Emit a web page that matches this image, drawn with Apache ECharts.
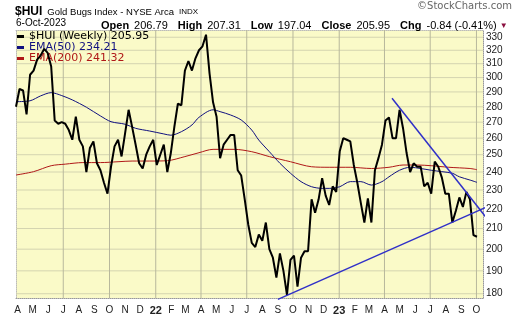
<!DOCTYPE html>
<html><head><meta charset="utf-8">
<script src="https://cdn.jsdelivr.net/npm/echarts@6/dist/echarts.min.js"></script>
<style>html,body{margin:0;padding:0;background:#fff}#c{width:520px;height:318px}</style>
</head><body><div id="c"></div>
<script>
// ---- data ----
const firstWeek = [2021, 2, 29]; // Monday of first weekly bar (Mar 29 2021)
const price = [
 280,292,291,275,302,305,313,316,321,318,
 308,271,269,270,269,265,259,273.5,259,255,
 240,254,258,245,241,234,228,243,255,259,
 249,263,278,267,256,245,242,250,255,259,
 244,250,256,240,251,267,282,281,305,312,
 305,314,320,323,332,303,283,273.5,248,256,
 259,262,262,241,238,225,212,203,201,207,
 204,213,200,196,187,198,190,179.5,195,197,
 183,196,199,199,225,218,225,236.5,227,222,
 232,229,252,260,259,258,244,234,223,213,
 225.5,213,241,248,256,271,273,260,260,278,
 266,251,240,245,243,243,232,234,228,246,
 243,237,228,228,213,219,226,221,229,225,
 206.79,205.95
];
const ema50Weeks = [0,4,7,10,13,16,20,24,27,31,34,38,42,44,47,50,52,56,58,61,64,67,69,72,75,78,81,84,87,89,92,95,98,101,104,106,109,112,115,118,121,124,126,129,131];
const ema50 = [283.4,284,287.3,289.5,287.5,284.6,279.7,274,270.3,268.7,266.1,264.4,262.6,261.8,264,268.2,273.1,278,276.8,274.6,271.4,265,258.8,251.8,245,239.3,234.6,231.8,230.9,230.9,231.8,234.6,234.6,232.7,234.6,237.3,241,242.7,242,241,240.2,239.3,237.3,235.5,234.21];
const ema200Weeks = [0,5,10,14,19,24,29,33,38,43,48,52,56,62,67,72,78,84,89,95,101,106,110,114,118,123,129,131];
const ema200 = [238.3,240.2,243.6,244.5,245.4,245.4,245.9,246.3,246.3,246.5,248.9,251.2,253.2,253.2,251.8,248.9,245.9,243,242.7,242.7,242,242.7,244,244,243.6,242.7,242,241.32];
const yTicks = [180,190,200,210,220,230,240,250,260,270,280,290,300,310,320,330];
const monthLetters = ['J','F','M','A','M','J','J','A','S','O','N','D'];
const headerDate = '6-Oct-2023';
const ohlcNames = ['Open','High','Low','Close'];
const ohlcValues = [206.79,207.31,197.04,205.95];
const change = [-0.84,-0.41];
const trendDown = [[2023,3,16,285.7],[2023,9,22,215]];
const trendUp = [[2022,8,1,177.6],[2023,9,22,221]];

// ---- build ----
function dayTime(y,m,d){ return new Date(y,m,d).getTime(); }
function weekTime(i){ return dayTime(firstWeek[0], firstWeek[1], firstWeek[2] + 7*i); }
const xMin = dayTime(2021,2,29);
const xMax = dayTime(2023,9,14);
const yMin = 178.2, yMax = 335.7;
const priceData = price.map((v,i)=>[weekTime(i), v]);
const ema50Data = ema50Weeks.map((w,k)=>[weekTime(w), ema50[k]]);
const ema200Data = ema200Weeks.map((w,k)=>[weekTime(w), ema200[k]]);
const monthTicks = [];
for (let y=2021, m=3; y<2023 || (y===2023 && m<=9);) { monthTicks.push(dayTime(y,m,1)); m++; if(m>11){m=0;y++;} }
const quarterTicks = monthTicks.filter(t => new Date(t).getMonth()%3===0 && t > xMin + 5*86400000);
const tl = p => [dayTime(p[0],p[1],p[2]), p[3]];

const nPrice = '$HUI (Weekly) ' + price[price.length-1].toFixed(2);
const nE50 = 'EMA(50) ' + ema50[ema50.length-1].toFixed(2);
const nE200 = 'EMA(200) ' + ema200[ema200.length-1].toFixed(2);

let hdr = '';
ohlcNames.forEach((n,k)=>{ hdr += '{l|' + n + '} {v|' + ohlcValues[k].toFixed(2) + '}  '; });
hdr += '{l|Chg} {v|' + change[0].toFixed(2) + ' (' + change[1].toFixed(2) + '%)}{t|▼}';

const gridSeries = [];
yTicks.forEach(v => gridSeries.push({type:'line', silent:true, showSymbol:false, z:1, animation:false,
  data:[[xMin,v],[xMax,v]], lineStyle:{color:'#d4d4b0', width:1}, emphasis:{disabled:true}}));
quarterTicks.forEach(t => gridSeries.push({type:'line', silent:true, showSymbol:false, z:1, animation:false,
  data:[[t,yMin],[t,yMax]], lineStyle:{color:'#b8b89c', width:1}, emphasis:{disabled:true}}));

const FF = 'Liberation Sans';
const chart = echarts.init(document.getElementById('c'));
chart.setOption({
  animation: false,
  title: [
    {left: 15, top: 3, padding: 0, text: '{a|$HUI} {b|Gold Bugs Index - NYSE Arca} {c|INDX}',
     textStyle: {rich: {
       a: {fontFamily: FF, fontSize: 12, fontWeight: 'bold', color: '#000'},
       b: {fontFamily: FF, fontSize: 9.5, fontWeight: 'normal', color: '#000'},
       c: {fontFamily: FF, fontSize: 8, fontWeight: 'normal', color: '#000'}}}},
    {left: 16, top: 18, padding: 0, text: headerDate,
     textStyle: {fontFamily: FF, fontSize: 10, fontWeight: 'normal', color: '#000'}},
    {left: 101, top: 17, padding: 0, text: hdr,
     textStyle: {rich: {
       l: {fontFamily: FF, fontSize: 11, fontWeight: 'bold', color: '#000'},
       v: {fontFamily: FF, fontSize: 11, fontWeight: 'normal', color: '#000'},
       t: {fontFamily: FF, fontSize: 8, fontWeight: 'normal', color: '#8b1040', padding: [0,0,0,3]}}}},
    {right: 8, top: 1, padding: 0, text: '©StockCharts.com',
     textStyle: {fontFamily: 'DejaVu Sans', fontSize: 10, fontWeight: 'normal', color: '#666'}}
  ],
  legend: {
    orient: 'vertical', left: 17, top: 31, padding: 0, itemGap: 0,
    itemWidth: 7, itemHeight: 3, icon: 'rect',
    textStyle: {fontFamily: 'DejaVu Sans', fontSize: 11, lineHeight: 11},
    data: [
      {name: nPrice, textStyle: {color: '#000'}},
      {name: nE50, textStyle: {color: '#101080'}},
      {name: nE200, textStyle: {color: '#b01818'}}
    ]
  },
  grid: {left: 16, right: 37, top: 30, bottom: 20, show: true, backgroundColor: '#fafac8', borderWidth: 0},
  xAxis: [{
    type: 'value', min: xMin, max: xMax, position: 'bottom', scale: true,
    axisLine: {show: true, onZero: false, lineStyle: {color: '#999', type: 'dotted'}},
    axisTick: {show: false, customValues: quarterTicks},
    axisLabel: {customValues: monthTicks, hideOverlap: false, margin: 7, fontFamily: FF, fontSize: 10, color: '#222',
      formatter: function(v){ const d = new Date(v); const m = d.getMonth();
        if (m === 0) return '{y|' + String(d.getFullYear()).slice(2) + '}';
        return monthLetters[m]; },
      rich: {y: {fontFamily: FF, fontSize: 11, fontWeight: 'bold', color: '#222'}}},
    splitLine: {show: false}
  }, {
    type: 'value', min: xMin, max: xMax, position: 'top', scale: true,
    axisLine: {show: true, onZero: false, lineStyle: {color: '#bbb', type: 'dotted'}},
    axisTick: {show: false}, axisLabel: {show: false}, splitLine: {show: false}
  }],
  yAxis: [{
    type: 'log', logBase: 10, position: 'right', min: yMin, max: yMax,
    axisLine: {show: true, lineStyle: {color: '#999', type: 'dotted'}},
    axisTick: {show: false, customValues: yTicks},
    axisLabel: {customValues: yTicks, margin: 3, fontFamily: FF, fontSize: 10, color: '#222'},
    splitLine: {show: false}
  }, {
    type: 'log', logBase: 10, position: 'left', min: yMin, max: yMax,
    axisLine: {show: true, lineStyle: {color: '#bbb', type: 'dotted'}},
    axisTick: {show: false}, axisLabel: {show: false}, splitLine: {show: false}
  }],
  series: gridSeries.concat([
    {name: nE200, type: 'line', data: ema200Data, showSymbol: false, smooth: 0.3, z: 3,
     color: '#b01818', lineStyle: {color: '#b01818', width: 1}},
    {name: nE50, type: 'line', data: ema50Data, showSymbol: false, smooth: 0.3, z: 3,
     color: '#101080', lineStyle: {color: '#101080', width: 1}},
    {name: nPrice, type: 'line', data: priceData, showSymbol: false, z: 4,
     color: '#000', lineStyle: {color: '#000', width: 2}},
    {type: 'line', data: [tl(trendDown[0]), tl(trendDown[1])], showSymbol: false, silent: true, z: 5, clip: false,
     lineStyle: {color: '#3030c8', width: 1.5}},
    {type: 'line', data: [tl(trendUp[0]), tl(trendUp[1])], showSymbol: false, silent: true, z: 5, clip: false,
     lineStyle: {color: '#3030c8', width: 1.5}}
  ])
});
</script></body></html>
